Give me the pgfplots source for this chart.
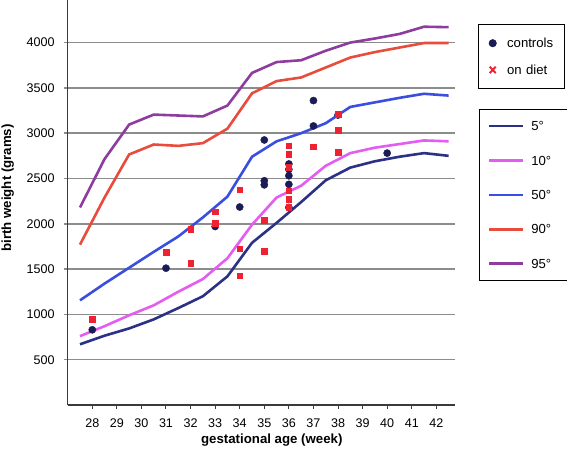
\documentclass[border=0pt]{standalone}
\usepackage{fontspec}
\setmainfont{Liberation Sans}
\usepackage{pgfplots}
\pgfplotsset{compat=1.18}

\definecolor{c5}{HTML}{2B3185}
\definecolor{c10}{HTML}{E45CF0}
\definecolor{c50}{HTML}{3A4EE0}
\definecolor{c90}{HTML}{E84C3C}
\definecolor{c95}{HTML}{8E3C9E}
\definecolor{cctrl}{HTML}{1B1B55}
\definecolor{cdiet}{HTML}{EE2233}
\definecolor{gridc}{HTML}{8C8C8C}
\definecolor{axisc}{HTML}{3A3A3A}

\pgfplotsset{
  common/.style={
    scale only axis, width=387.3bp, height=405bp,
    xmin=27.0, xmax=42.76, ymin=0, ymax=4470,
  },
  ctrlleg/.style={legend image code/.code={\path[draw=none] (0bp,0bp) -- (12bp,0bp); \fill[cctrl] (6bp,0bp) circle (3.6bp);}},
  dietleg/.style={legend image code/.code={\path[draw=none] (0bp,0bp) -- (12bp,0bp); \draw[cdiet, line width=1.9bp] (3bp,-3.2bp) -- (9bp,3.2bp) (3bp,3.2bp) -- (9bp,-3.2bp);}},
}

\begin{document}
\begin{tikzpicture}
\useasboundingbox (-67.7bp,-49bp) rectangle (499.3bp,405bp);
\begin{axis}[common,
  axis lines*=left,
  axis line style={axisc, line width=1.6bp},
  xtick={28,...,42}, ytick={500,1000,...,4000},
  tick align=outside, major tick length=4bp,
  xtick style={axisc, line width=1bp},
  ytick style={gridc, line width=1.5bp},
  ymajorgrids, grid style={gridc, line width=1.5bp},
  ticklabel style={font=\fontsize{12.6}{14}\selectfont},
  xticklabel style={inner sep=0pt, yshift=-10bp},
  yticklabel style={inner sep=0pt, xshift=-9bp},
  /pgf/number format/assume math mode=true,
  /pgf/number format/1000 sep={},
  xlabel={gestational age (week)}, ylabel={birth weight (grams)},
  label style={font=\fontsize{13.3}{15}\selectfont\bfseries},
  xlabel style={at={(axis description cs:0.527,-0.0864)}, anchor=center},
  ylabel style={at={(axis description cs:-0.155,0.536)}, anchor=center},
  legend cell align=left,
  legend style={at={(rel axis cs:1.0627,0.7309)}, anchor=north west,
    draw=black, line width=0.8bp, inner xsep=8.4bp, inner ysep=10.4bp,
    row sep=21.8bp, column sep=6.6bp,
    font=\fontsize{13.2}{15}\selectfont,
    nodes={inner sep=0pt, text height=11bp, text depth=1.6bp, text width=28.3bp, align=left}},
  legend image code/.code={\draw[#1] (0bp,0bp) -- (34bp,0bp);},
  every axis plot/.append style={line width=2.6bp, mark=none},
]
\addplot[c5] coordinates {(27.5,670) (28.5,765) (29.5,845) (30.5,945) (31.5,1070) (32.5,1200) (33.5,1420) (34.5,1790) (35.5,2010) (36.5,2240) (37.5,2480) (38.5,2620) (39.5,2690) (40.5,2740) (41.5,2780) (42.5,2750)};
\addlegendentry{5°}
\addplot[c10] coordinates {(27.5,760) (28.5,870) (29.5,990) (30.5,1100) (31.5,1250) (32.5,1390) (33.5,1620) (34.5,1990) (35.5,2290) (36.5,2420) (37.5,2640) (38.5,2780) (39.5,2840) (40.5,2880) (41.5,2920) (42.5,2910)};
\addlegendentry{10°}
\addplot[c50] coordinates {(27.5,1155) (28.5,1340) (29.5,1515) (30.5,1690) (31.5,1860) (32.5,2070) (33.5,2300) (34.5,2740) (35.5,2910) (36.5,3000) (37.5,3110) (38.5,3290) (39.5,3340) (40.5,3390) (41.5,3435) (42.5,3415)};
\addlegendentry{50°}
\addplot[c90] coordinates {(27.5,1770) (28.5,2290) (29.5,2765) (30.5,2875) (31.5,2860) (32.5,2890) (33.5,3050) (34.5,3440) (35.5,3575) (36.5,3615) (37.5,3725) (38.5,3835) (39.5,3895) (40.5,3945) (41.5,3995) (42.5,3995)};
\addlegendentry{90°}
\addplot[c95] coordinates {(27.5,2180) (28.5,2715) (29.5,3095) (30.5,3205) (31.5,3195) (32.5,3185) (33.5,3305) (34.5,3665) (35.5,3785) (36.5,3805) (37.5,3910) (38.5,4000) (39.5,4045) (40.5,4095) (41.5,4175) (42.5,4170)};
\addlegendentry{95°}
\end{axis}

\begin{axis}[common, hide axis,
  legend cell align=left,
  legend style={at={(rel axis cs:1.0602,0.9407)}, anchor=north west,
    draw=black, line width=0.8bp, inner xsep=8bp, inner ysep=12.5bp,
    row sep=14.1bp, column sep=8.4bp,
    font=\fontsize{13.2}{15}\selectfont,
    nodes={inner sep=0pt, text height=11bp, text depth=1.6bp, text width=49.3bp, align=left}},
]
\addplot[only marks, mark=*, mark size=3.6bp, cctrl, mark options={draw=cctrl, fill=cctrl}, ctrlleg]
  coordinates {(28,830) (31,1510) (33,1970) (34,2185) (35,2925) (35,2475) (35,2430)
   (36,2660) (36,2600) (36,2530) (36,2435) (36,2180) (37,3360) (37,3080) (38,3200) (40,2780)};
\addlegendentry{controls}
\addplot[only marks, mark=square*, mark size=2.8bp, cdiet, mark options={draw=cdiet, fill=cdiet}, dietleg]
  coordinates {(28,945) (31,1685) (32,1940) (32,1565) (33,2135) (33,2005) (34,2375) (34,1725) (34,1425)
   (35,2040) (35,1700) (36,2860) (36,2770) (36,2625) (36,2365) (36,2270) (36,2180) (37,2850)
   (38,3210) (38,3030) (38,2790)};
\addlegendentry{on diet}
\end{axis}
\end{tikzpicture}
\end{document}
